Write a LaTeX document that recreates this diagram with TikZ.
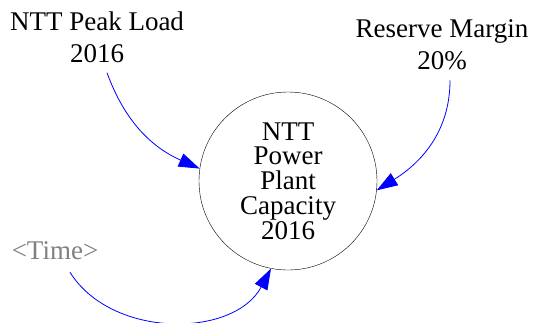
\documentclass[tikz,border=0pt]{standalone}
\usepackage{fontspec}
\setmainfont{Liberation Serif}
\usetikzlibrary{arrows.meta}
\begin{document}
\begin{tikzpicture}[x=1pt,y=-1pt,
  varlabel/.style={align=center,inner sep=0pt,font=\fontsize{27}{32}\selectfont},
  stock/.style={circle,draw,thin,minimum size=178pt,inner sep=0pt,align=center,
    font=\fontsize{27}{24.8}\selectfont},
  link/.style={blue,line width=0.8pt,-{Triangle[length=21pt,width=14pt]}}]
\useasboundingbox (0,0) rectangle (534,322);

\node[stock] (cap) at (288,181) {NTT\\Power\\Plant\\Capacity\\2016};
\node[varlabel] (load) at (97,37) {NTT Peak Load\\2016};
\node[varlabel] (margin) at (442,45) {Reserve Margin\\20\%};
\node[varlabel,text=gray] (time) at (55,251) {<Time>};

\draw[link] ([xshift=10pt,yshift=-10pt]load.south) to[out=-70,in=156] (cap.172);
\draw[link] ([xshift=8pt,yshift=-10pt]margin.south) to[out=-90,in=32] (cap.-6);
\draw[link] ([xshift=15pt,yshift=-12pt]time.south) to[out=-58,in=-118] (cap.-101);
\end{tikzpicture}
\end{document}
